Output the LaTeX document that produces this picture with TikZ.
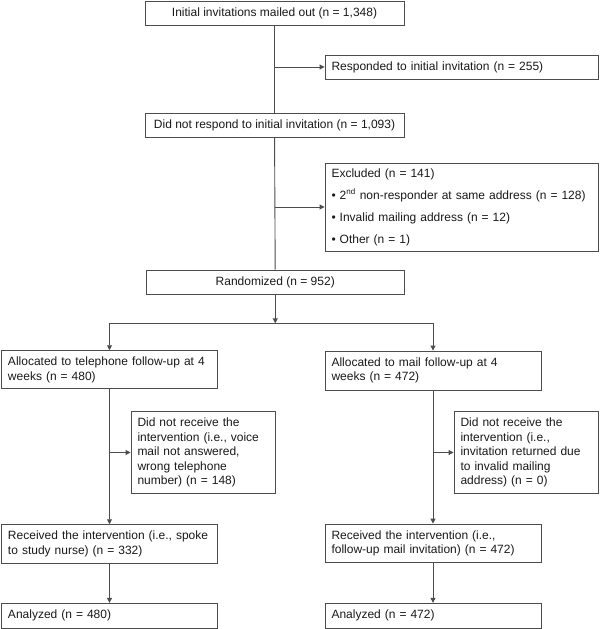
\documentclass[tikz,border=0pt]{standalone}
\usepackage{fontspec}
\setmainfont{Liberation Sans}
\usetikzlibrary{arrows.meta}

\tikzset{
  box/.style={draw=black!70, line width=0.9pt, rectangle, inner xsep=8pt, inner ysep=0pt,
    font=\fontsize{12}{14.4}\selectfont, text=black!90},
  cbox/.style={box, align=center},
  lbox/.style={box, align=left, inner xsep=6.5pt},
  arr/.style={draw=black!70, line width=0.9pt, -{Triangle[length=5pt,width=5pt]}},
  trunk/.style={draw=black!70, line width=0.9pt}
}

\begin{document}
\begin{tikzpicture}[x=1pt, y=-1pt]
        \useasboundingbox (0,0) rectangle (600,629);

        % top part
        \node [cbox, minimum width=259pt, minimum height=24pt] (init) at (274.5,13.5)
          {Initial invitations mailed out (n = 1,348)};
        \node [lbox, minimum width=273.5pt, minimum height=24pt, text width=260.5pt] (resp) at (461.75,67)
          {Responded to initial invitation (n = 255)};
        \node [cbox, minimum width=259pt, minimum height=24.5pt] (nonresp) at (274.5,125.25)
          {Did not respond to initial invitation (n = 1,093)};
        \node [lbox, minimum width=273.5pt, minimum height=88pt, text width=260.5pt] (excl) at (461.75,207)
          {Excluded (n = 141)\\[7.6pt]
           \textbullet\ 2\textsuperscript{nd} non-responder at same address (n = 128)\\[7.6pt]
           \textbullet\ Invalid mailing address (n = 12)\\[7.6pt]
           \textbullet\ Other (n = 1)};
        \node [cbox, minimum width=258.5pt, minimum height=24pt] (rand) at (275.25,282)
          {Randomized (n = 952)};

        % telephone arm
        \node [lbox, minimum width=216pt, minimum height=38pt, text width=203pt] (tel) at (109.5,369.7)
          {Allocated to telephone follow-up at 4\\weeks (n = 480)};
        \node [lbox, minimum width=144pt, minimum height=81.6pt, text width=131pt] (telno) at (203,452.5)
          {Did not receive the\\intervention (i.e., voice\\mail not answered,\\wrong telephone\\number) (n = 148)};
        \node [lbox, minimum width=216pt, minimum height=38.6pt, text width=203pt] (telrec) at (109.5,544)
          {Received the intervention (i.e., spoke\\to study nurse) (n = 332)};
        \node [lbox, minimum width=216pt, minimum height=25pt, text width=203pt] (telan) at (109.5,615.8)
          {Analyzed (n = 480)};

        % mail arm
        \node [lbox, minimum width=216pt, minimum height=39pt, text width=203pt] (mail) at (433,370.5)
          {Allocated to mail follow-up at 4\\weeks (n = 472)};
        \node [lbox, minimum width=144.5pt, minimum height=81.6pt, text width=131.5pt] (mailno) at (526.25,452.5)
          {Did not receive the\\intervention (i.e.,\\invitation returned due\\to invalid mailing\\address) (n = 0)};
        \node [lbox, minimum width=216pt, minimum height=38.7pt, text width=203pt] (mailrec) at (433,543.4)
          {Received the intervention (i.e.,\\follow-up mail invitation) (n = 472)};
        \node [lbox, minimum width=216pt, minimum height=25pt, text width=203pt] (mailan) at (433,615.8)
          {Analyzed (n = 472)};

        % connectors
        \draw [trunk] (init) -- (nonresp);
        \draw [arr] (init.south |- resp) -- (resp);
        \draw [trunk] (nonresp) -- (rand);
        \draw [arr] (nonresp.south |- excl) -- (excl);

        \coordinate (split) at (275.25,323.3);
        \draw [arr] (rand) -- (split);
        \draw [arr] (split) -| (tel);
        \draw [arr] (split) -| (mail);

        \draw [arr] (tel) -- (telrec);
        \draw [arr] (tel.south |- telno) -- (telno);
        \draw [arr] (telrec) -- (telan);

        \draw [arr] (mail) -- (mailrec);
        \draw [arr] (mail.south |- mailno) -- (mailno);
        \draw [arr] (mailrec) -- (mailan);
      \end{tikzpicture}
\end{document}
